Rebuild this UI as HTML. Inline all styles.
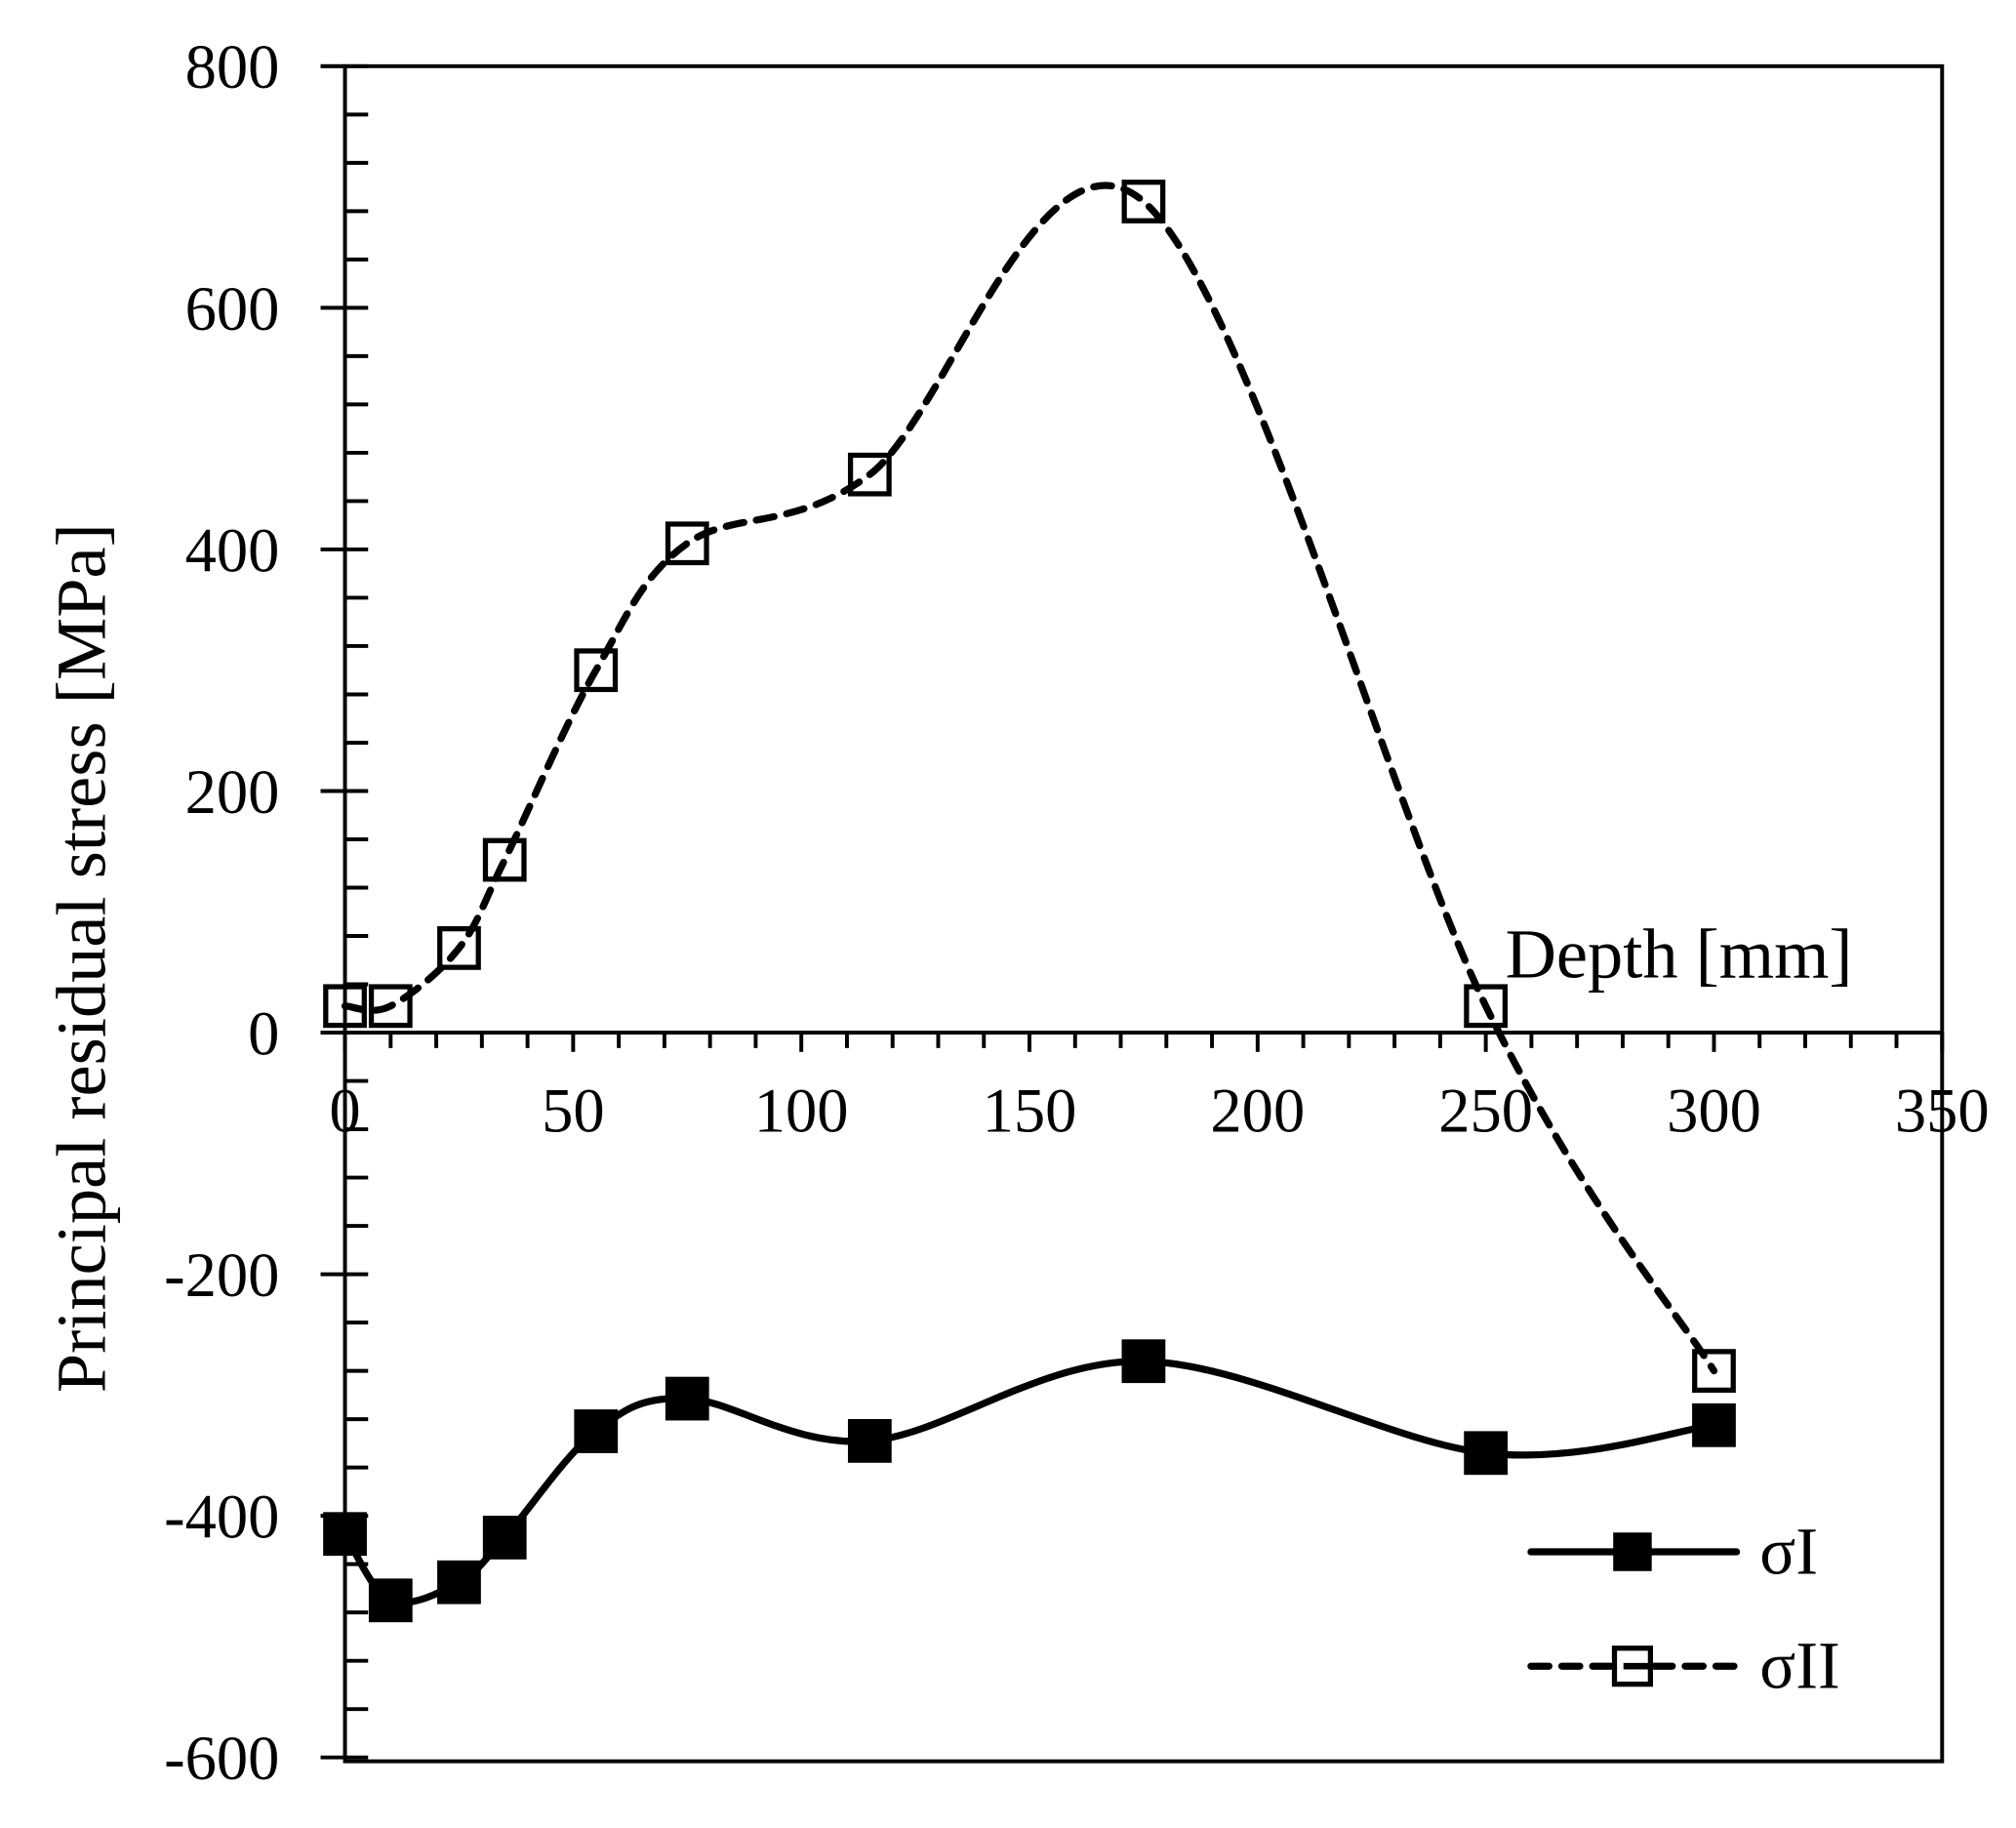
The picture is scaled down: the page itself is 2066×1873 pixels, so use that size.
<!DOCTYPE html>
<html><head><meta charset="utf-8"><style>
html,body{margin:0;padding:0;background:#fff;}
svg{display:block;}
text{font-family:"Liberation Serif",serif;fill:#000;}
</style></head><body>
<svg id="s" width="2066" height="1873" viewBox="0 0 1569 1422" xmlns="http://www.w3.org/2000/svg">
<rect width="1569" height="1422" fill="#fff"/>
<g id="g" transform="translate(1.5,0.3)"></g>
</svg>
<script>
const X0=267,XS=(1510-267)/350,Y0=803,YS=752/800;
const px=x=>X0+x*XS, py=y=>Y0-y*YS;
let h='';
h+=`<rect x="267" y="51" width="1243" height="1319" fill="none" stroke="#000" stroke-width="3"/>`;
h+=`<line x1="248" y1="51" x2="267" y2="51" stroke="#000" stroke-width="3"/>`;
for(let v=-600;v<=800;v+=40){const y=py(v);
 if(v%200===0){h+=`<line x1="248" y1="${y}" x2="285" y2="${y}" stroke="#000" stroke-width="3"/>`;
  h+=`<text x="216" y="${y+17}" font-size="49" text-anchor="end">${v}</text>`;}
 else h+=`<line x1="267" y1="${y}" x2="285" y2="${y}" stroke="#000" stroke-width="3"/>`;}
h+=`<line x1="248" y1="803" x2="1510" y2="803" stroke="#000" stroke-width="3"/>`;
for(let v=0;v<=350;v+=10){const x=px(v);
 h+=`<line x1="${x}" y1="803" x2="${x}" y2="${v%50===0?818:815}" stroke="#000" stroke-width="3"/>`;
 if(v%50===0)h+=`<text x="${x}" y="880" font-size="49" text-anchor="middle">${v}</text>`;}
h+=`<text x="1170" y="760" font-size="55">Depth [mm]</text>`;
h+=`<text transform="translate(80,745) rotate(-90)" font-size="55" text-anchor="middle">Principal residual stress [MPa]</text>`;
function path(pts){const p=pts.map(a=>[px(a[0]),py(a[1])]);let d=`M${p[0][0]},${p[0][1]}`;
 for(let i=0;i<p.length-1;i++){const p0=p[i-1]||p[i],p1=p[i],p2=p[i+1],p3=p[i+2]||p2;const t=6;
  d+=` C${p1[0]+(p2[0]-p0[0])/t},${p1[1]+(p2[1]-p0[1])/t} ${p2[0]-(p3[0]-p1[0])/t},${p2[1]-(p3[1]-p1[1])/t} ${p2[0]},${p2[1]}`;}
 return d;}
const s2=[[0,22],[10,22],[25,70],[35,143],[55,300],[75,405],[115,462],[175,688],[250,22],[300,-280]];
const s1=[[0,-415],[10,-470],[25,-455],[35,-418],[55,-330],[75,-303],[115,-338],[175,-272],[250,-348],[300,-325]];
h+=`<path d="${path(s1)}" fill="none" stroke="#000" stroke-width="5.5"/>`;
h+=`<path d="${path(s2)}" fill="none" stroke="#000" stroke-width="5.5" stroke-dasharray="14,10" stroke-linecap="round"/>`;
for(const a of s1)h+=`<rect x="${px(a[0])-17}" y="${py(a[1])-17}" width="34" height="34" fill="#000"/>`;
for(const a of s2)h+=`<rect x="${px(a[0])-15}" y="${py(a[1])-15}" width="30" height="30" fill="none" stroke="#000" stroke-width="4"/>`;
h+=`<line x1="1190" y1="1207" x2="1350" y2="1207" stroke="#000" stroke-width="5.5" stroke-linecap="round"/>`;
h+=`<rect x="1254" y="1192" width="30" height="30" fill="#000"/>`;
h+=`<text x="1368" y="1224" font-size="52">σI</text>`;
h+=`<line x1="1190" y1="1296" x2="1350" y2="1296" stroke="#000" stroke-width="5.5" stroke-dasharray="14,10" stroke-linecap="round"/>`;
h+=`<rect x="1255" y="1282" width="28" height="28" fill="#fff" stroke="#000" stroke-width="4"/>`;
h+=`<line x1="1262" y1="1296" x2="1283" y2="1296" stroke="#000" stroke-width="5"/>`;
h+=`<text x="1368" y="1313" font-size="52">σII</text>`;
document.getElementById('g').innerHTML=h;
</script>
</body></html>
